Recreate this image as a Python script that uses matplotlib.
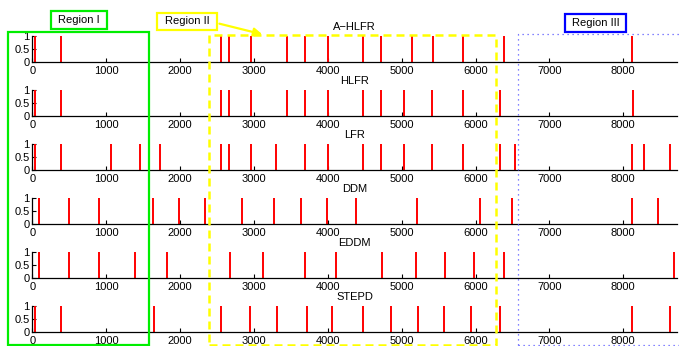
import matplotlib
matplotlib.use("Agg")
import matplotlib.pyplot as plt
from matplotlib.patches import Rectangle
from matplotlib.lines import Line2D

plt.rcParams['font.family'] = ['Liberation Sans', 'DejaVu Sans']
plt.rcParams['font.size'] = 8

# ---- data: detection points for each method ----
methods = ["A\u2212HLFR", "HLFR", "LFR", "DDM", "EDDM", "STEPD"]
a_hlfr = [36, 388, 2554, 2659, 2956, 3444, 3692, 3999, 4473, 4716, 5144, 5428, 5834, 6385, 8118]
hlfr = [36, 388, 2554, 2659, 2956, 3444, 3692, 3999, 4473, 4716, 5036, 5414, 5834, 6330, 8127]
lfr = [36, 388, 1061, 1454, 1729, 2554, 2659, 2956, 3299, 3692, 3999, 4473, 4716, 5036,
       5414, 5834, 6330, 6538, 8118, 8276, 8632]
ddm = [91, 492, 907, 1638, 1990, 2338, 2843, 3276, 3641, 3986, 4378, 5203, 6061, 6493, 8118, 8474]
eddm = [91, 492, 907, 1394, 1820, 2676, 3127, 3688, 4117, 4730, 5193, 5587, 5979, 6385, 8686]
stepd = [41, 388, 1643, 2554, 2947, 3312, 3715, 4054, 4473, 4852, 5216, 5573, 5943, 6330, 8118, 8632]
series = [a_hlfr, hlfr, lfr, ddm, eddm, stepd]

xticks = [0, 1000, 2000, 3000, 4000, 5000, 6000, 7000, 8000]
yticks = [0, 0.5, 1]
ytick_labels = ["0", "0.5", "1"]
region_labels = ["Region I", "Region II", "Region III"]

W, H = 679, 346
fig = plt.figure(figsize=(W / 100, H / 100), dpi=100)


def fx(px):
    return px / W


def fy(py):
    return 1 - py / H


ax_left, ax_right = 32.3, 676.7
ax_h = 26.0
for i, (name, vals) in enumerate(zip(methods, series)):
    base = 62 + 54 * i
    ax = fig.add_axes([fx(ax_left), fy(base), fx(ax_right) - fx(ax_left), ax_h / H])
    ax.vlines(vals, 0, 1, color='red', lw=1.4)
    ax.set_xlim(0, 8723)
    ax.set_ylim(0, 1)
    ax.set_xticks(xticks)
    ax.set_xticklabels([str(t) for t in xticks])
    ax.set_yticks(yticks)
    ax.set_yticklabels(ytick_labels)
    ax.tick_params(axis='x', direction='in', length=3, pad=3, width=0.8)
    ax.tick_params(axis='y', direction='in', length=3, pad=2, width=0.8)
    for s in ['top', 'right']:
        ax.spines[s].set_visible(False)
    for s in ['left', 'bottom']:
        ax.spines[s].set_linewidth(0.9)
    ax.set_title(name, fontsize=8, pad=4)
    ax.patch.set_alpha(0)

# ---- region rectangles ----
fig.add_artist(Rectangle((fx(8.3), fy(344.5)), fx(149) - fx(8.3), fy(32.3) - fy(344.5),
                         transform=fig.transFigure, fill=False, edgecolor='#00ee00', lw=1.6))
fig.add_artist(Rectangle((fx(209.3), fy(344.5)), fx(495.7) - fx(209.3), fy(35) - fy(344.5),
                         transform=fig.transFigure, fill=False, edgecolor='#ffff00', lw=1.8,
                         linestyle=(0, (3.2, 2))))
fig.add_artist(Line2D([fx(518.3), fx(518.3), fx(680)], [fy(344.5), fy(34.3), fy(34.3)],
                      transform=fig.transFigure, color='#5a5aff', lw=0.9, linestyle=(0, (1, 3))))
fig.add_artist(Line2D([fx(518.3), fx(680)], [fy(344.5), fy(344.5)],
                      transform=fig.transFigure, color='#5a5aff', lw=0.9, linestyle=(0, (1, 3))))

# ---- region labels ----
label_boxes = [((50.7, 11.0, 106.7, 29.3), '#00ee00'),
               ((157.0, 12.7, 216.7, 30.0), '#ffff00'),
               ((565.0, 14.0, 625.7, 32.3), '#0000ff')]
for txt, ((x0, y0, x1, y1), col) in zip(region_labels, label_boxes):
    fig.add_artist(Rectangle((fx(x0), fy(y1)), fx(x1) - fx(x0), fy(y0) - fy(y1),
                             transform=fig.transFigure, facecolor='white', edgecolor=col, lw=1.6))
    fig.text(fx((x0 + x1) / 2), fy((y0 + y1) / 2), txt, ha='center', va='center', fontsize=8)

fig.add_artist(matplotlib.patches.FancyArrowPatch(
    (fx(216.7), fy(23)), (fx(265), fy(35)), transform=fig.transFigure,
    arrowstyle='-|>,head_length=5,head_width=2.5', color='#ffff00', lw=1.6))

fig.savefig("out.png", dpi=100)
